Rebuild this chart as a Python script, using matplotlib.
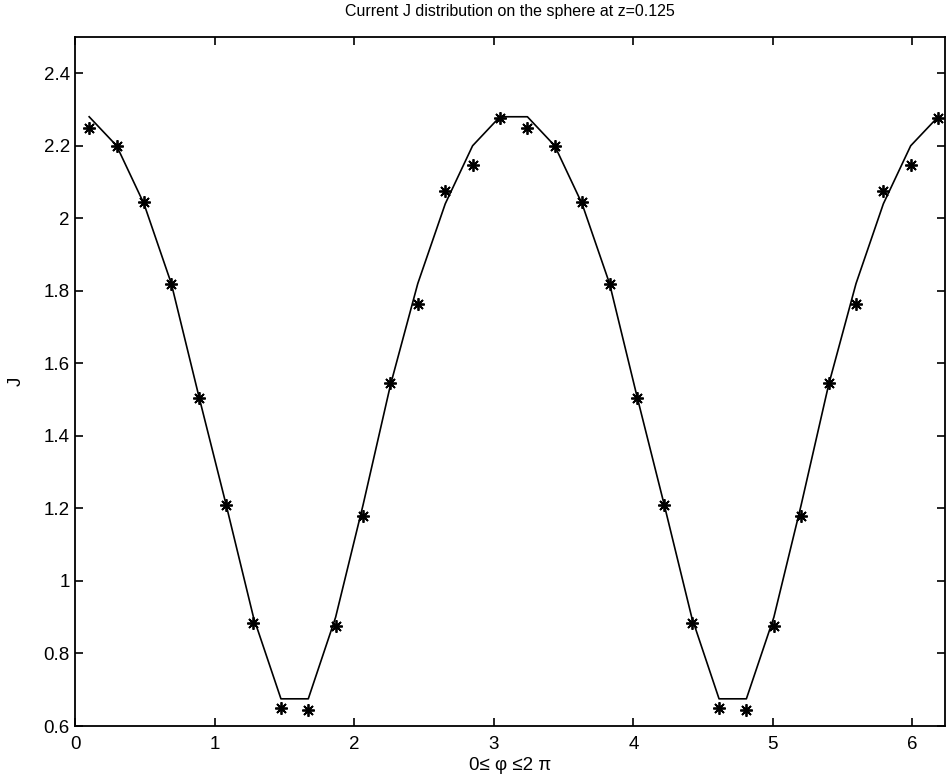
import numpy as np
import matplotlib
matplotlib.use("Agg")
import matplotlib.pyplot as plt

# phi sample points (32 points over 0..2pi)
phi = [0.098, 0.295, 0.491, 0.687, 0.884, 1.080, 1.276, 1.473,
       1.669, 1.865, 2.062, 2.258, 2.454, 2.651, 2.847, 3.043,
       3.240, 3.436, 3.632, 3.829, 4.025, 4.221, 4.418, 4.614,
       4.810, 5.007, 5.203, 5.399, 5.596, 5.792, 5.988, 6.185]

# solid curve values
j_line = [2.28, 2.20, 2.04, 1.82, 1.51, 1.21, 0.90, 0.675,
          0.675, 0.90, 1.21, 1.54, 1.82, 2.04, 2.20, 2.28,
          2.28, 2.20, 2.04, 1.82, 1.51, 1.21, 0.90, 0.675,
          0.675, 0.90, 1.21, 1.54, 1.82, 2.04, 2.20, 2.28]

# asterisk values
j_pts = [2.25, 2.20, 2.045, 1.82, 1.505, 1.21, 0.885, 0.65,
         0.645, 0.875, 1.18, 1.545, 1.765, 2.075, 2.148, 2.277,
         2.25, 2.20, 2.045, 1.82, 1.505, 1.21, 0.885, 0.65,
         0.645, 0.875, 1.18, 1.545, 1.765, 2.075, 2.148, 2.277]

x_ticks = [0, 1, 2, 3, 4, 5, 6]
y_ticks = [0.6, 0.8, 1.0, 1.2, 1.4, 1.6, 1.8, 2.0, 2.2, 2.4]
y_tick_labels = ['0.6', '0.8', '1', '1.2', '1.4', '1.6', '1.8', '2', '2.2', '2.4']

plt.rcParams['font.family'] = ['Liberation Sans', 'DejaVu Sans']

fig = plt.figure(figsize=(9.46, 7.8), dpi=100)
ax = fig.add_axes([0.0798, 0.0692, 0.919, 0.8834])

ax.plot(phi, j_line, color='black', linewidth=1.2)
ax.plot(phi, j_pts, linestyle='none', marker=(8, 2, 0), markersize=9,
        markeredgewidth=1.3, color='black')

ax.set_xlim(0, 6.233)
ax.set_ylim(0.6, 2.5)
ax.set_xticks(x_ticks)
ax.set_xticklabels([str(t) for t in x_ticks])
ax.set_yticks(y_ticks)
ax.set_yticklabels(y_tick_labels)

ax.tick_params(direction='in', length=6, width=1.2, labelsize=13.5,
               top=True, right=True, colors='black')
ax.tick_params(axis='x', pad=7)
ax.tick_params(axis='y', pad=4)
for s in ax.spines.values():
    s.set_linewidth(1.3)

ax.set_title('Current J distribution on the sphere at z=0.125', fontsize=11.5, pad=15)
ax.set_xlabel('0\u2264 \u03c6 \u22642 \u03c0', fontsize=13.5, labelpad=3)
ax.set_ylabel('J', fontsize=13.5, labelpad=14)

fig.savefig('out.png', dpi=100)
